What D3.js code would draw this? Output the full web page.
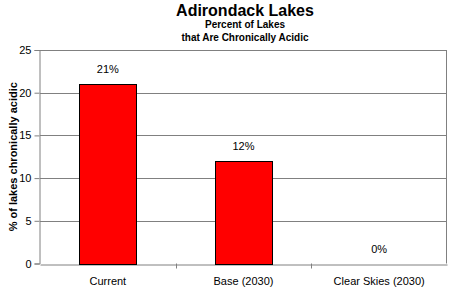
<!DOCTYPE html>
<html>
<head>
<meta charset="utf-8">
<script src="https://cdn.jsdelivr.net/npm/d3@7"></script>
<style>
  body { margin: 0; background: #fff; }
  text { font-family: Arial, "Liberation Sans", sans-serif; fill: #000; }
</style>
</head>
<body>
<div id="chart"></div>
<script>
// Data
const categories = ['Current', 'Base (2030)', 'Clear Skies (2030)']
const values = [21, 12, 0]
const valueLabels = ['21%', '12%', '0%']
const yTicks = [0, 5, 10, 15, 20, 25]

const width = 450
const height = 293
const margin = { top: 50, right: 3, bottom: 29.5, left: 40 }

const svg = d3.select('#chart')
    .append('svg')
    .attr('width', width)
    .attr('height', height)

const xScale = d3.scaleBand()
    .domain(categories)
    .range([margin.left, width - margin.right])
    .paddingInner(0)
    .paddingOuter(0)

const yScale = d3.scaleLinear()
    .domain([0, 25])
    .range([height - margin.bottom, margin.top])

// Gridlines
svg.append('g')
    .selectAll('line')
    .data(yTicks.slice(1))
    .enter()
    .append('line')
    .attr('x1', margin.left)
    .attr('x2', width - margin.right)
    .attr('y1', d => Math.round(yScale(d)) + 0.5)
    .attr('y2', d => Math.round(yScale(d)) + 0.5)
    .attr('stroke', '#808080')

// Plot border (right side)
svg.append('line')
    .attr('x1', width - margin.right - 0.5)
    .attr('x2', width - margin.right - 0.5)
    .attr('y1', yScale(25))
    .attr('y2', yScale(0))
    .attr('stroke', '#808080')

// Y axis
const yAxis = d3.axisLeft(yScale).tickValues(yTicks).tickSize(5).tickPadding(3)
const yG = svg.append('g')
    .attr('transform', `translate(${margin.left - 0.5}, 0)`)
    .call(yAxis)
yG.select('.domain').attr('stroke', '#808080')
yG.selectAll('.tick line').attr('stroke', '#808080')
yG.selectAll('.tick text').attr('font-size', 11).attr('fill', '#000')

// X axis
const xAxis = d3.axisBottom(xScale).tickSize(0).tickPadding(13)
const xG = svg.append('g')
    .attr('transform', `translate(0, ${Math.round(yScale(0)) + 0.5})`)
    .call(xAxis)
xG.select('.domain').attr('stroke', '#808080')
xG.selectAll('.tick text').attr('font-size', 11).attr('fill', '#000')

// category separator ticks
svg.append('g')
    .selectAll('line')
    .data(categories.slice(1))
    .enter()
    .append('line')
    .attr('x1', d => Math.round(xScale(d)) + 0.5)
    .attr('x2', d => Math.round(xScale(d)) + 0.5)
    .attr('y1', yScale(0))
    .attr('y2', yScale(0) + 5)
    .attr('stroke', '#808080')

// Bars
const barW = xScale.bandwidth() * 0.42
svg.append('g')
    .selectAll('rect')
    .data(values)
    .enter()
    .append('rect')
    .attr('x', (d, i) => Math.round(xScale(categories[i]) + (xScale.bandwidth() - barW) / 2) + 0.5)
    .attr('y', d => Math.round(yScale(d)) + 0.5)
    .attr('width', Math.round(barW))
    .attr('height', d => Math.round(yScale(0)) - Math.round(yScale(d)))
    .attr('fill', d => d > 0 ? '#ff0000' : 'none')
    .attr('stroke', d => d > 0 ? '#000' : 'none')

// Value labels
svg.append('g')
    .selectAll('text')
    .data(values)
    .enter()
    .append('text')
    .attr('x', (d, i) => xScale(categories[i]) + xScale.bandwidth() / 2)
    .attr('y', d => yScale(d) - 11)
    .attr('text-anchor', 'middle')
    .attr('font-size', 11)
    .text((d, i) => valueLabels[i])

// Titles
svg.append('text')
    .attr('x', 245)
    .attr('y', 16)
    .attr('text-anchor', 'middle')
    .attr('font-size', 16)
    .attr('font-weight', 'bold')
    .text('Adirondack Lakes')

svg.append('text')
    .attr('x', 245)
    .attr('y', 28)
    .attr('text-anchor', 'middle')
    .attr('font-size', 10)
    .attr('font-weight', 'bold')
    .text('Percent of Lakes')

svg.append('text')
    .attr('x', 245)
    .attr('y', 41)
    .attr('text-anchor', 'middle')
    .attr('font-size', 10)
    .attr('font-weight', 'bold')
    .text('that Are Chronically Acidic')

// Y axis title
svg.append('text')
    .attr('transform', `translate(17, ${(yScale(0) + yScale(25)) / 2}) rotate(-90)`)
    .attr('text-anchor', 'middle')
    .attr('font-size', 11)
    .attr('font-weight', 'bold')
    .text('% of lakes chronically acidic')
</script>
</body>
</html>
